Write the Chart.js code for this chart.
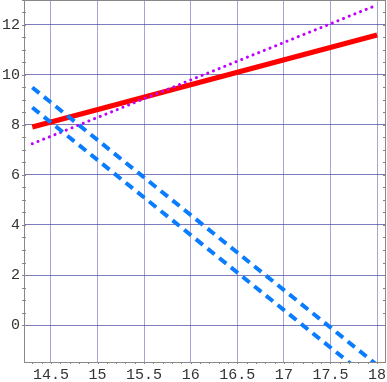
<!DOCTYPE html>
<html>
<head>
<meta charset="utf-8">
<script src="https://cdn.jsdelivr.net/npm/chart.js@4.4.1/dist/chart.umd.min.js"></script>
<style>
  html, body { margin: 0; padding: 0; background: #fff; }
  #wrap { width: 387px; height: 382px; }
</style>
</head>
<body>
<div id="wrap"><canvas id="chart"></canvas></div>
<script>
// x range of the lines
const xs = [14.3, 18];

// series values at the two ends
const redLine = [7.92, 11.6];
const purpleLine = [7.25, 12.8];
const blueUpper = [9.5, -1.6];
const blueLower = [8.7, -2.4];

// tick labels
const xTicks = [14.5, 15, 15.5, 16, 16.5, 17, 17.5, 18];
const yTicks = [0, 2, 4, 6, 8, 10, 12];

const toPoints = ys => xs.map((x, i) => ({ x: x, y: ys[i] }));

// frame around the plot with small minor ticks
const framePlugin = {
    id: 'frame',
    afterDraw(chart) {
        const { ctx, chartArea: a, scales } = chart;
        ctx.save();
        ctx.strokeStyle = '#888';
        ctx.lineWidth = 1;
        ctx.strokeRect(a.left + 0.5, a.top + 0.5, a.right - a.left - 1, a.bottom - a.top);
        ctx.beginPath();
        for (let v = 0; v <= 13; v += 0.5) {
            const p = Math.round(scales.y.getPixelForValue(v)) + 0.5;
            if (p < a.top || p > a.bottom) continue;
            ctx.moveTo(a.left - 2, p); ctx.lineTo(a.left + 2, p);
            ctx.moveTo(a.right - 3, p); ctx.lineTo(a.right, p);
        }
        for (let v = 14.3; v <= 18.05; v += 0.1) {
            const p = Math.round(scales.x.getPixelForValue(v)) + 0.5;
            ctx.moveTo(p, a.bottom); ctx.lineTo(p, a.bottom + 2);
        }
        ctx.stroke();
        ctx.restore();
    }
};

new Chart(document.getElementById('chart'), {
    type: 'scatter',
    data: {
        datasets: [
            {
                data: toPoints(blueUpper),
                showLine: true,
                borderColor: '#0a7cff',
                borderWidth: 4,
                borderDash: [9, 6],
                pointRadius: 0
            },
            {
                data: toPoints(blueLower),
                showLine: true,
                borderColor: '#0a7cff',
                borderWidth: 4,
                borderDash: [9, 6],
                pointRadius: 0
            },
            {
                data: toPoints(purpleLine),
                showLine: true,
                borderColor: '#c000ff',
                borderWidth: 3,
                borderDash: [0.1, 6],
                borderCapStyle: 'round',
                pointRadius: 0
            },
            {
                data: toPoints(redLine),
                showLine: true,
                borderColor: '#ff0000',
                borderWidth: 5,
                pointRadius: 0
            }
        ]
    },
    options: {
        responsive: true,
        maintainAspectRatio: false,
        animation: false,
        layout: { padding: { top: 0, right: 1, bottom: 0, left: 0 } },
        plugins: {
            legend: { display: false },
            tooltip: { enabled: false }
        },
        scales: {
            x: {
                type: 'linear',
                min: 14.211,
                max: 18.096,
                afterBuildTicks: scale => { scale.ticks = xTicks.map(v => ({ value: v })); },
                afterFit: scale => {
                    scale.height = 20;
                    scale.paddingLeft = 0;
                    scale.paddingRight = 0;
                },
                grid: { color: 'rgba(90,90,180,0.55)', lineWidth: 1, drawTicks: false },
                border: { display: false },
                ticks: {
                    padding: 4,
                    maxRotation: 0,
                    autoSkip: false,
                    color: '#333',
                    font: { family: 'Liberation Mono', size: 15 },
                    callback: v => String(v)
                }
            },
            y: {
                type: 'linear',
                min: -1.48,
                max: 13,
                afterBuildTicks: scale => { scale.ticks = yTicks.map(v => ({ value: v })); },
                afterFit: scale => {
                    scale.width = 24;
                    scale.paddingTop = 0;
                    scale.paddingBottom = 0;
                },
                grid: { color: 'rgba(70,70,160,0.7)', lineWidth: 1, drawTicks: false },
                border: { display: false },
                ticks: {
                    padding: 4,
                    autoSkip: false,
                    color: '#333',
                    font: { family: 'Liberation Mono', size: 15 },
                    callback: v => String(v)
                }
            }
        }
    },
    plugins: [framePlugin]
});
</script>
</body>
</html>
